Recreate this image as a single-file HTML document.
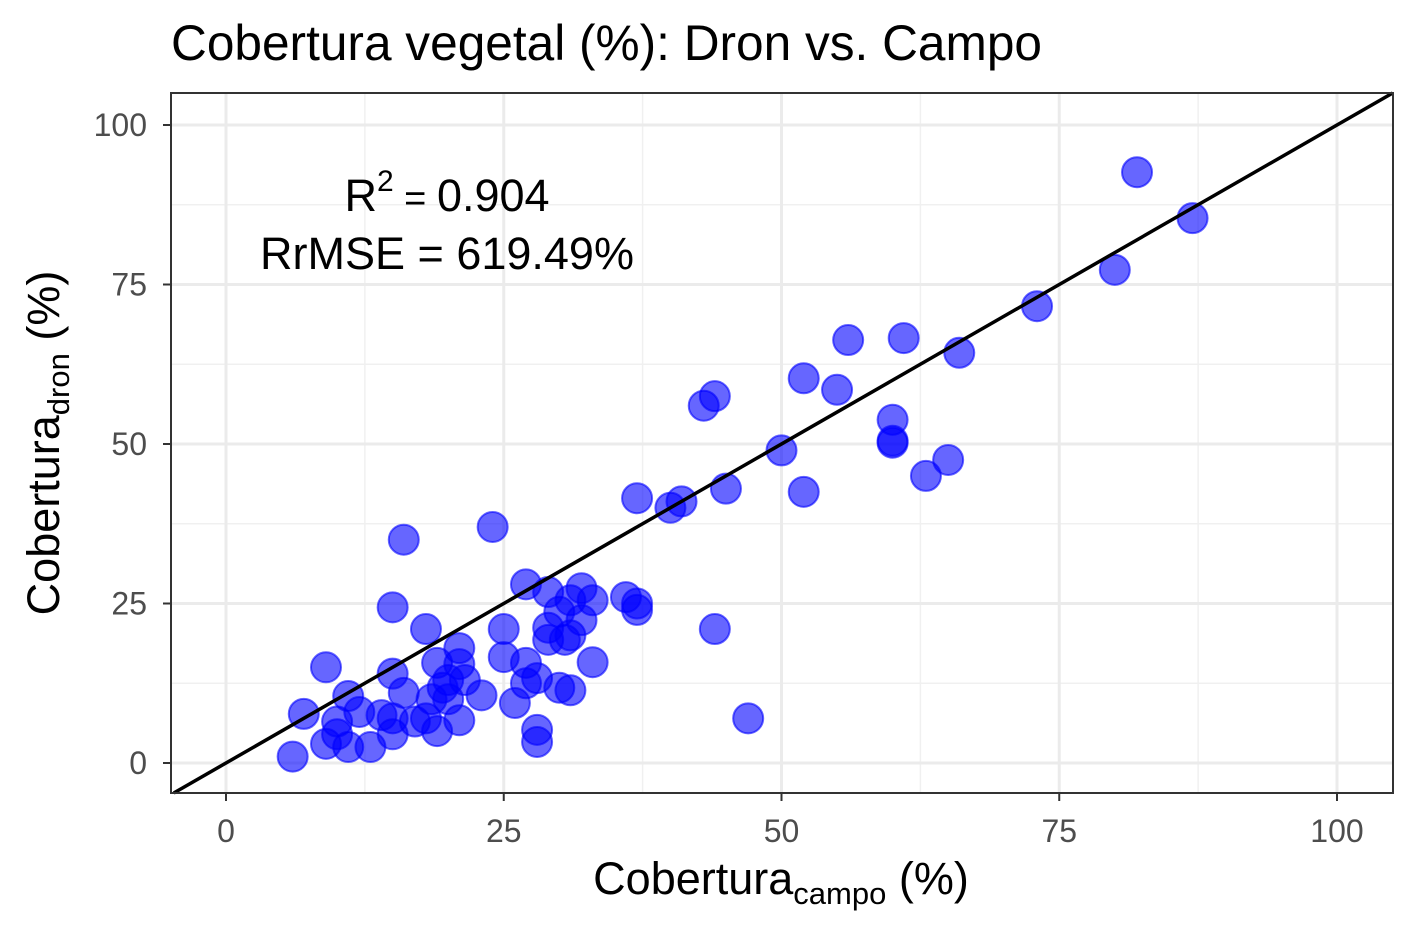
<!DOCTYPE html>
<html><head><meta charset="utf-8"><style>
body{margin:0;background:#fff;font-family:"Liberation Sans",sans-serif}
svg{display:block}
</style></head><body>
<svg id="chart" width="1417" height="944" font-family="Liberation Sans, sans-serif">
<text x="171" y="60" font-size="49.6" fill="#000">Cobertura vegetal (%): Dron vs. Campo</text>
<g id="grid"></g>
<g id="pts"></g>
<g id="axes"></g>
<text x="447" y="211" font-size="45" text-anchor="middle">R<tspan dy="-20" font-size="30">2</tspan><tspan dy="20" font-size="38"> = </tspan><tspan>0.904</tspan></text>
<text x="447" y="269" font-size="45" text-anchor="middle">RrMSE = 619.49%</text>
<text x="781" y="894" font-size="45" text-anchor="middle">Cobertura<tspan font-size="31" dy="10">campo</tspan><tspan dy="-10"> (%)</tspan></text>
<text transform="translate(59,443) rotate(-90)" font-size="45" text-anchor="middle">Cobertura<tspan font-size="31" dy="10">dron</tspan><tspan dy="-10"> (%)</tspan></text>
</svg>
<script>
const xTicks=[0,25,50,75,100];
const yTicks=[0,25,50,75,100];
const campo=[6,7,9,9,10,10,11,11,12,13,14,15,15,15,15,16,16,17,18,18,18.5,19,19,19.5,20,20,21,21,21,21.5,23,24,25,25,26,27,27,27,28,28,28,29,29,29,30,30,30.5,31,31,31,32,32,33,33,36,37,37,37,40,41,43,44,44,45,47,50,52,52,55,56,60,60,60,61,63,65,66,73,80,82,87];
const dron=[1,7.7,15,3,4.5,6.5,10.5,2.5,8,2.5,7.5,24.4,14,4.5,7,35,11,6.5,21,7,10,15.7,5,11.8,13,10,18,15.5,6.7,13,10.6,37,21,16.6,9.4,28,15.7,12.5,5.2,3.3,13.3,26.8,21.2,19.3,11.8,23.7,19.3,11.4,25.5,20,27.4,22.4,25.5,15.8,26,25,24,41.5,40,41,56,57.5,21,43,7,49,60.3,42.5,58.5,66.3,53.8,50.5,50.2,66.6,45,47.5,64.3,71.6,77.3,92.6,85.4];
const NS="http://www.w3.org/2000/svg";
const L=171,R=1393,T=93,B=793;
const sx=v=>226+v*(1337-226)/100;
const sy=v=>763-v*(763-125)/100;
function mk(tag,attrs,parent){const e=document.createElementNS(NS,tag);for(const k in attrs)e.setAttribute(k,attrs[k]);parent.appendChild(e);return e;}
const grid=document.getElementById('grid'),pts=document.getElementById('pts'),axes=document.getElementById('axes');
for(let i=0;i<xTicks.length-1;i++){
  const m=(xTicks[i]+xTicks[i+1])/2;
  let e=mk('line',{x1:sx(m),x2:sx(m),y1:T,y2:B,stroke:'#f0f0f0','stroke-width':1.5},grid);
  
  const n=(yTicks[i]+yTicks[i+1])/2;
  e=mk('line',{x1:L,x2:R,y1:sy(n),y2:sy(n),stroke:'#f0f0f0','stroke-width':1.5},grid);
  
}
xTicks.forEach(t=>{
  let e=mk('line',{x1:sx(t),x2:sx(t),y1:T,y2:B,stroke:'#ebebeb','stroke-width':3},grid);
  
  e=mk('line',{x1:sx(t),x2:sx(t),y1:B,y2:B+8,stroke:'#333','stroke-width':2},axes);
  
  e=mk('text',{x:sx(t),y:842,'font-size':32,fill:'#4d4d4d','text-anchor':'middle'},axes);e.textContent=t;
  
});
yTicks.forEach(t=>{
  let e=mk('line',{x1:L-8,x2:L,y1:sy(t),y2:sy(t),stroke:'#333','stroke-width':2},axes);
  
  e=mk('line',{x1:L,x2:R,y1:sy(t),y2:sy(t),stroke:'#ebebeb','stroke-width':3},grid);
  
  e=mk('text',{x:L-24,y:sy(t)+11,'font-size':32,fill:'#4d4d4d','text-anchor':'end'},axes);e.textContent=t;
  
});
campo.forEach((c,i)=>{
  const e=mk('circle',{cx:sx(c),cy:sy(dron[i]),r:15,fill:'rgba(0,0,255,0.6)',stroke:'rgba(0,0,255,0.6)','stroke-width':2},pts);
  
});
const x0=(L-226)*100/(1337-226),x1=(R-226)*100/(1337-226);
const y0=(763-B)*100/(763-125);
const lo=Math.max(x0,y0),hi=Math.min(x1,(763-T)*100/(763-125));
let ln=mk('line',{x1:sx(lo),y1:sy(lo),x2:sx(hi),y2:sy(hi),stroke:'#000','stroke-width':3.5},axes);

let fr=mk('rect',{x:L,y:T,width:R-L,height:B-T,fill:'none',stroke:'#333','stroke-width':2},axes);

</script>
</body></html>
